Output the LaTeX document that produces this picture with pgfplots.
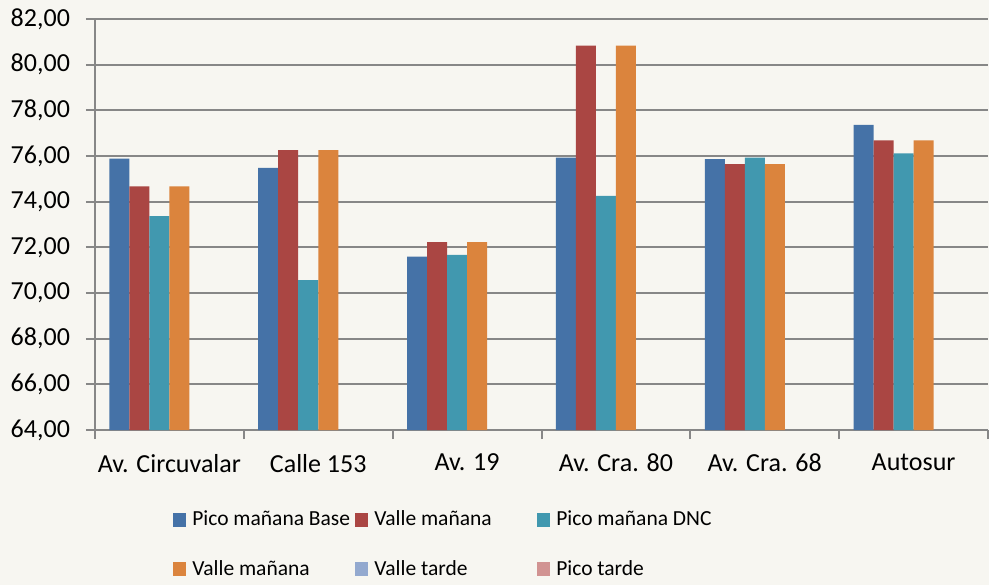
\documentclass[border=0pt]{standalone}
\usepackage{fontspec}
\setmainfont{Carlito}
\usepackage{pgfplots}
\pgfplotsset{compat=1.18}
\usetikzlibrary{backgrounds}
\definecolor{bg}{HTML}{F7F6F1}
\definecolor{c1}{HTML}{4572A7}
\definecolor{c2}{HTML}{AA4643}
\definecolor{c3}{HTML}{4198AF}
\definecolor{c4}{HTML}{DB843D}
\definecolor{c5}{HTML}{93A9CF}
\definecolor{c6}{HTML}{D19392}
\definecolor{gridc}{HTML}{878787}
\begin{document}
\begin{tikzpicture}[show background rectangle, background rectangle/.style={fill=bg, draw=none}, inner frame sep=0pt]
\begin{axis}[
  scale only axis, width=446.5pt, height=205.5pt,
  xmin=-0.5, xmax=5.5, ymin=64, ymax=82,
  ybar, bar width=10pt,
  ytick={64,66,...,82},
  xtick={-0.5,0.5,...,5.5},
  x tick label as interval,
  xticklabels={Av. Circuvalar, Calle 153, Av. 19, Av. Cra. 80, Av. Cra. 68, Autosur},
  axis x line*=bottom, axis y line*=left,
  axis line style={gridc, line width=1pt},
  tick style={gridc, line width=1pt},
  tick align=outside, major tick length=4.5pt,
  ymajorgrids, grid style={gridc, line width=1pt},
  tick label style={font=\fontsize{13}{15}\selectfont, black},
  xticklabel style={yshift=-4pt},
  yticklabel style={xshift=-4.5pt, /pgf/number format/fixed, /pgf/number format/fixed zerofill, /pgf/number format/precision=2, /pgf/number format/use comma},
  /pgf/number format/assume math mode=true,
  legend columns=3,
  legend image code/.code={\draw[#1,draw=none] (0pt,-3.5pt) rectangle (6.5pt,3.5pt);},
  legend style={draw=none, fill=none, at={(0.0873,-0.195)}, anchor=north west,
    font=\fontsize{10.75}{13}\selectfont, inner sep=0pt, row sep=16pt,
    nodes={inner sep=0pt},
    /tikz/every odd column/.append style={column sep=3pt},
    /tikz/every even column/.append style={column sep=0.5pt}},
]
\addplot[fill=c1, draw=none, bar shift=-25pt] coordinates {(0,75.88) (1,75.48) (2,71.59) (3,75.93) (4,75.86) (5,77.36)};
\addlegendentry{\makebox[81pt][l]{Pico mañana Base}}
\addplot[fill=c2, draw=none, bar shift=-15pt] coordinates {(0,74.67) (1,76.26) (2,72.23) (3,80.83) (4,75.64) (5,76.69)};
\addlegendentry{\makebox[81pt][l]{Valle mañana}}
\addplot[fill=c3, draw=none, bar shift=-5pt] coordinates {(0,73.37) (1,70.56) (2,71.67) (3,74.25) (4,75.93) (5,76.12)};
\addlegendentry{\makebox[81pt][l]{Pico mañana DNC}}
\addplot[fill=c4, draw=none, bar shift=5pt] coordinates {(0,74.67) (1,76.26) (2,72.23) (3,80.83) (4,75.64) (5,76.69)};
\addlegendentry{\makebox[81pt][l]{Valle mañana}}
\addlegendimage{fill=c5, draw=none}
\addlegendentry{\makebox[81pt][l]{Valle tarde}}
\addlegendimage{fill=c6, draw=none}
\addlegendentry{\makebox[81pt][l]{Pico tarde}}
\end{axis}
\path (current axis.south west) ++(-47.5pt,-77.5pt) rectangle ++(494.5pt,292.5pt);
\end{tikzpicture}
\end{document}
